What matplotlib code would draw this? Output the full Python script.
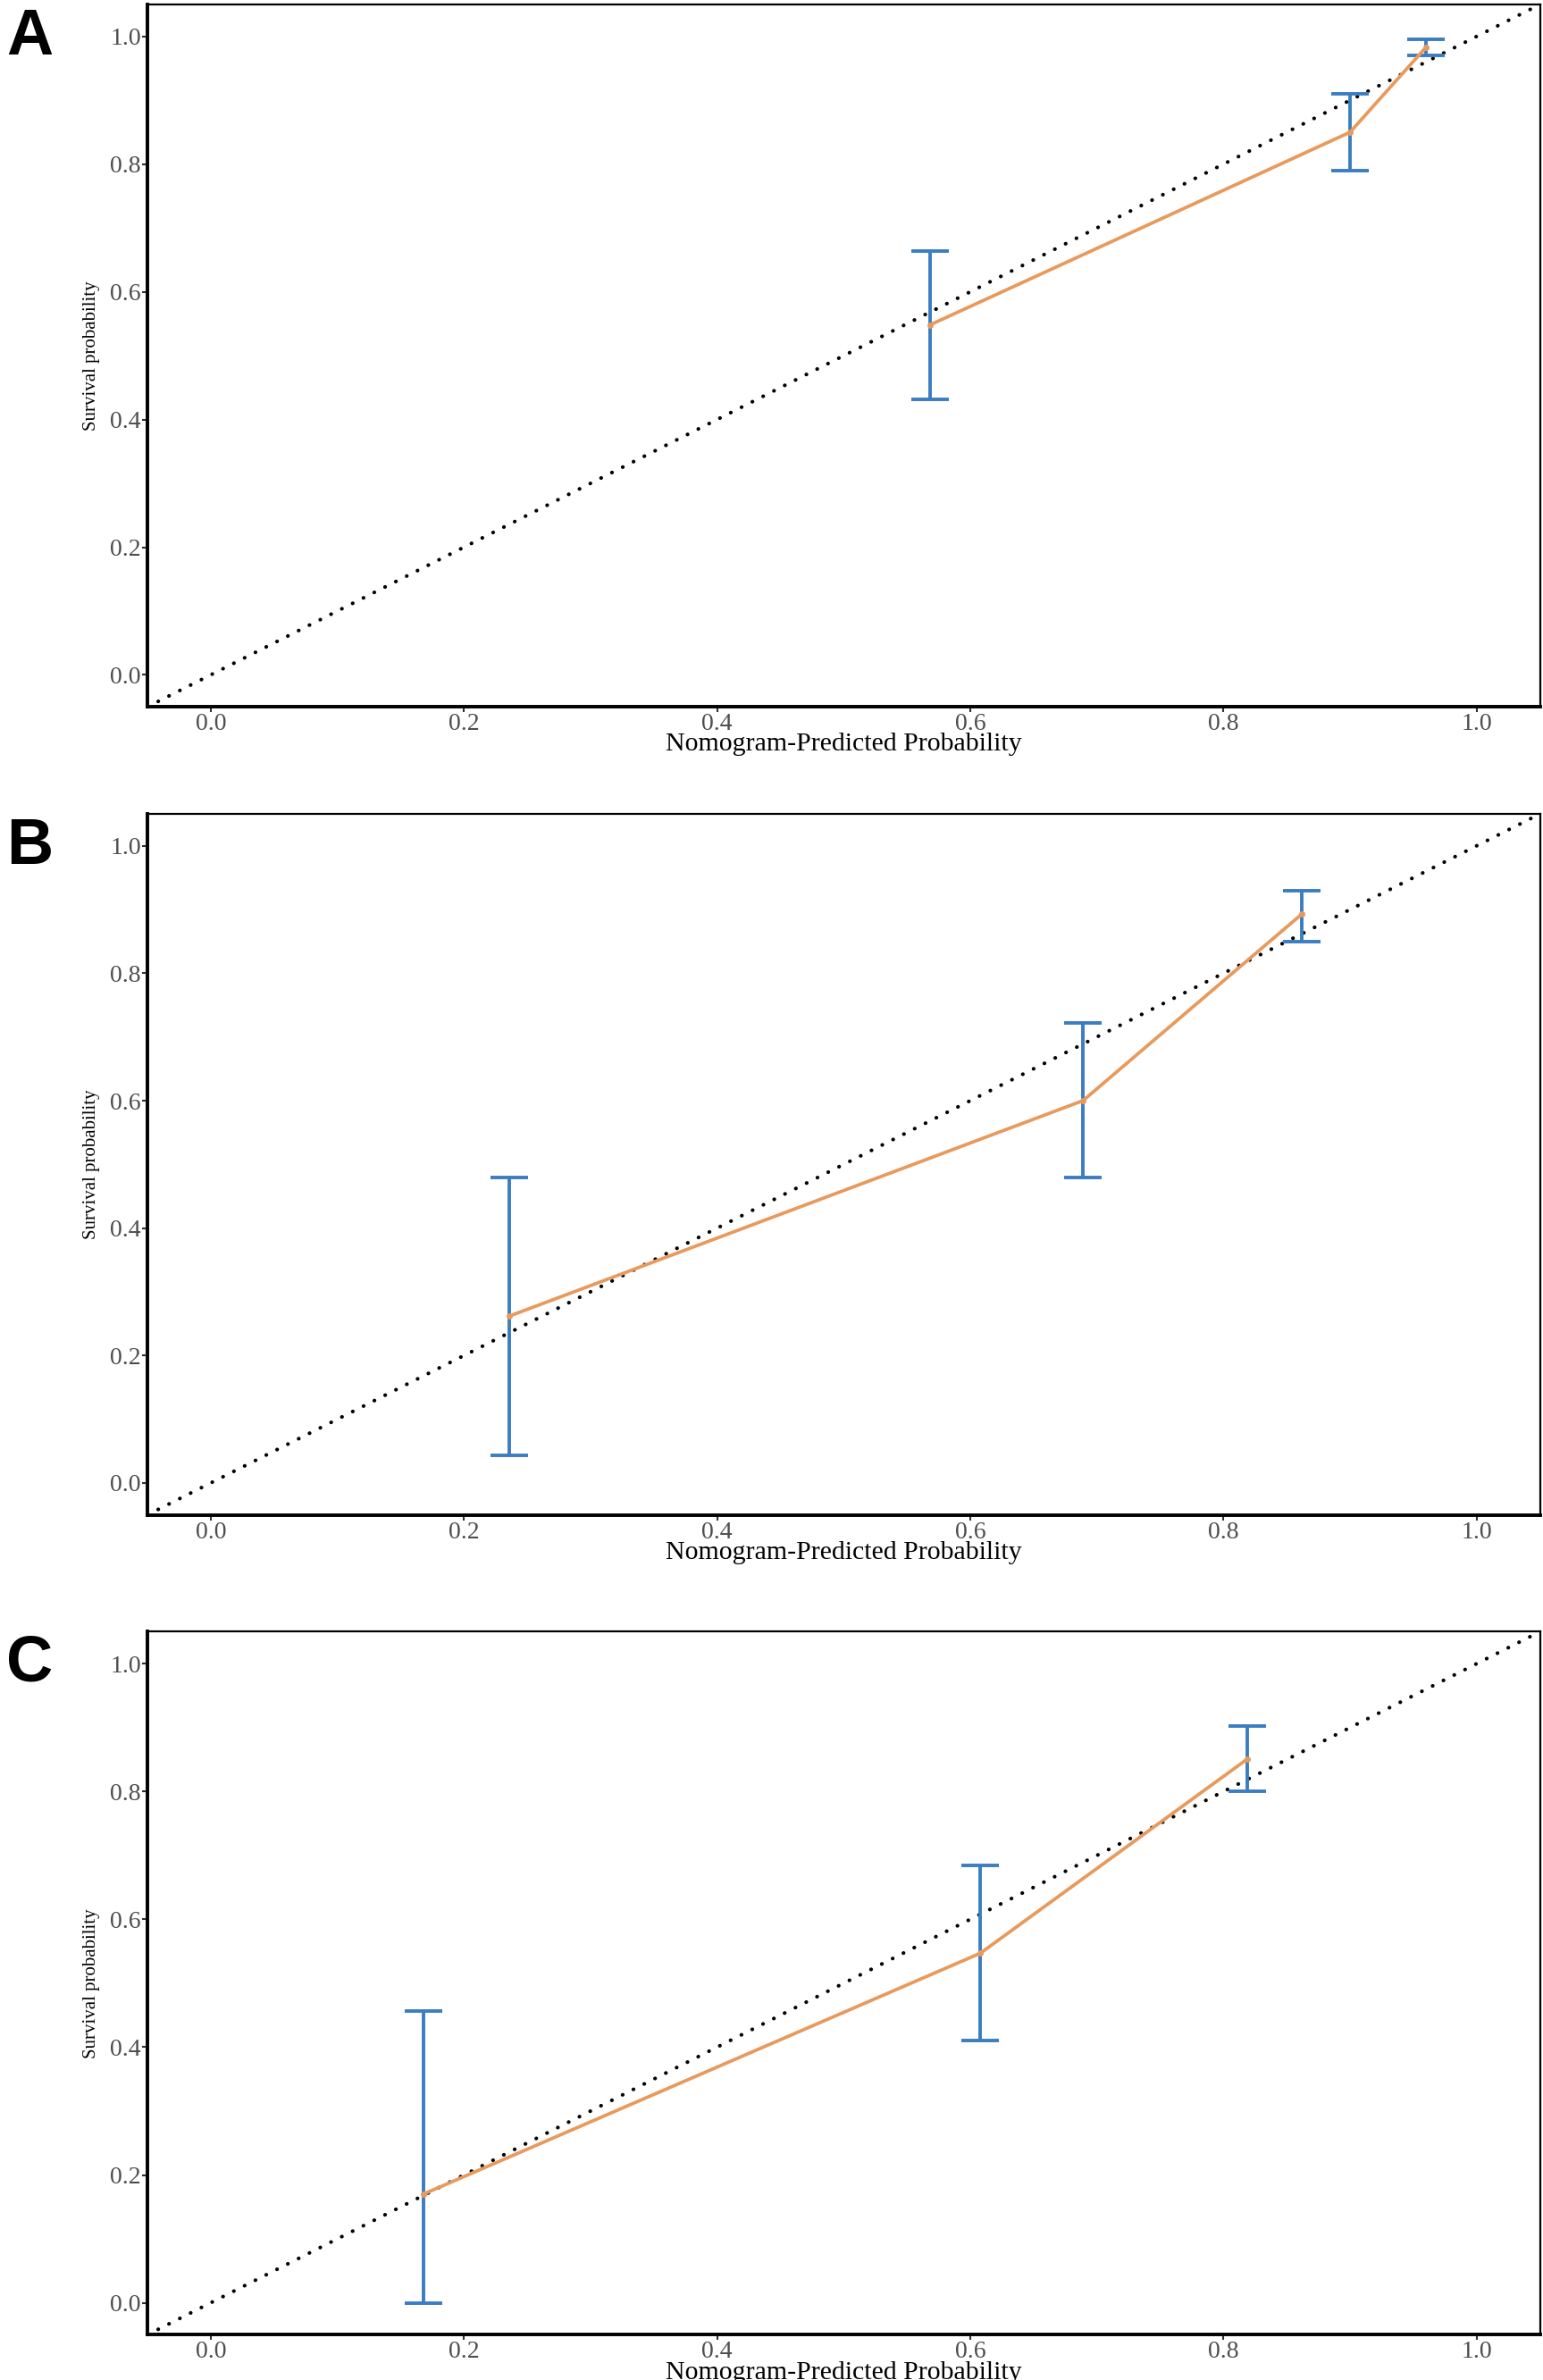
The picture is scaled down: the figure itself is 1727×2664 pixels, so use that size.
import matplotlib
matplotlib.use("Agg")
import matplotlib.pyplot as plt
import numpy as np

# ---- data ----
panels = ["A", "B", "C"]
pred_A = [0.568, 0.900, 0.960]
obs_A = [0.548, 0.850, 0.983]
lo_A = [0.431, 0.790, 0.970]
hi_A = [0.664, 0.910, 0.996]

pred_B = [0.236, 0.689, 0.862]
obs_B = [0.262, 0.600, 0.893]
lo_B = [0.043, 0.479, 0.850]
hi_B = [0.480, 0.722, 0.930]

pred_C = [0.168, 0.608, 0.819]
obs_C = [0.170, 0.547, 0.851]
lo_C = [0.000, 0.410, 0.800]
hi_C = [0.457, 0.685, 0.903]

ticks = [0.0, 0.2, 0.4, 0.6, 0.8, 1.0]
tick_labels = ["0.0", "0.2", "0.4", "0.6", "0.8", "1.0"]
xlabel = "Nomogram-Predicted Probability"
ylabel = "Survival probability"

data = {
    "A": (pred_A, obs_A, lo_A, hi_A),
    "B": (pred_B, obs_B, lo_B, hi_B),
    "C": (pred_C, obs_C, lo_C, hi_C),
}

SERIF = ["Liberation Serif", "DejaVu Serif"]
ORANGE = "#E89A5D"
BLUE = "#3B7DC1"

fig = plt.figure(figsize=(17.27, 26.64), dpi=100)

# axes rectangles [left, bottom, width, height] in figure fraction
rects = {
    "A": [0.0955, 0.703, 0.9025, 0.2951],
    "B": [0.0955, 0.3635, 0.9025, 0.2945],
    "C": [0.0955, 0.019, 0.9025, 0.2954],
}
letter_y = {"A": 0.997, "B": 0.657, "C": 0.3135}

for p in panels:
    pred, obs, lo, hi = data[p]
    ax = fig.add_axes(rects[p])
    ax.set_xlim(-0.05, 1.05)
    ax.set_ylim(-0.05, 1.05)

    # ideal diagonal
    ax.plot([-0.05, 1.05], [-0.05, 1.05], color="black", lw=3.0,
            linestyle=(0, (0.05, 3.2)), dash_capstyle="round", zorder=2)

    pred_a = np.array(pred)
    obs_a = np.array(obs)
    yerr = np.vstack([obs_a - np.array(lo), np.array(hi) - obs_a])
    ax.errorbar(pred_a, obs_a, yerr=yerr, fmt="none", ecolor=BLUE,
                elinewidth=2.8, capsize=15, capthick=2.8, zorder=3)
    ax.plot(pred_a, obs_a, color=ORANGE, lw=2.7, marker="o", ms=4,
            solid_capstyle="round", zorder=4)

    ax.set_xticks(ticks)
    ax.set_xticklabels(tick_labels)
    ax.set_yticks(ticks)
    ax.set_yticklabels(tick_labels)
    for lab in ax.get_xticklabels() + ax.get_yticklabels():
        lab.set_family(SERIF)
        lab.set_fontsize(20)
        lab.set_color("#4D4D4D")
    ax.tick_params(direction="out", length=4, width=1.5, color="#333333", pad=1)

    ax.set_xlabel(xlabel, family=SERIF, fontsize=21.5, color="black", labelpad=-2)
    ax.set_ylabel(ylabel, family=SERIF, fontsize=15, color="black", labelpad=8)

    for s in ["top", "right"]:
        ax.spines[s].set_linewidth(1.6)
    for s in ["left", "bottom"]:
        ax.spines[s].set_linewidth(2.8)
    for s in ax.spines.values():
        s.set_color("black")

    fig.text(0.004, letter_y[p], p, family=["Liberation Sans", "DejaVu Sans"],
             fontweight="bold", fontsize=52, va="top", ha="left")

fig.savefig("out.png", dpi=100, facecolor="white")
